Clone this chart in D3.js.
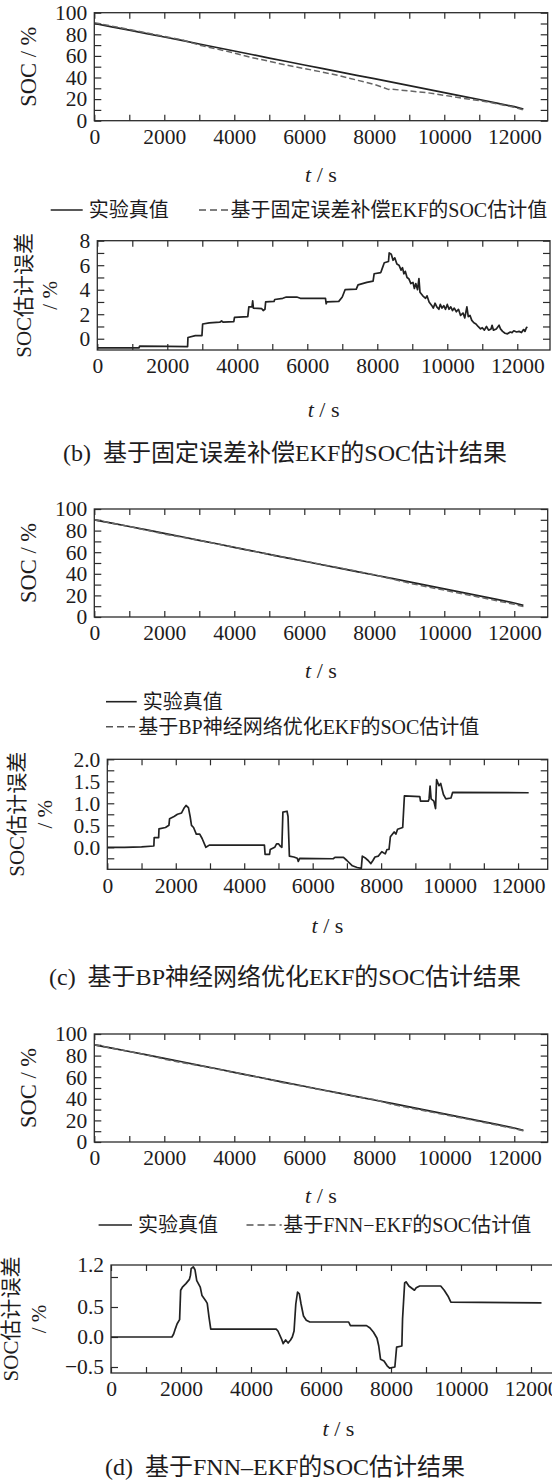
<!DOCTYPE html>
<html><head><meta charset="utf-8">
<script src="https://cdn.jsdelivr.net/npm/d3@7"></script>
<style>
body{margin:0;background:#fff}
svg{display:block}
text{font-family:"Liberation Serif","Noto Sans CJK SC",serif;fill:#1e1c1d;white-space:pre}
</style>
</head><body>
<svg id="chart" width="552" height="1481"></svg>
<script>
// ---------- data ----------
const timeGrid = [0,500,1000,1500,2000,2500,3000,3500,4000,4500,5000,5500,6000,6500,7000,7500,8000,8500,9000,9500,10000,10500,11000,11500,12000,12260];
const socTrue  = [90.0,86.9,83.8,80.7,77.5,74.3,71.0,67.8,64.5,61.3,58.0,54.8,51.6,48.4,45.2,42.0,38.9,35.7,32.5,29.3,26.0,22.8,19.6,16.3,13.0,10.8];

const estTimeB = [0,500,1000,1500,2000,2500,3000,3500,4000,4500,5000,5500,6000,6500,7000,7500,8000,8400,8500,9000,9500,10000,10500,11000,11500,12000,12260];
const socEstB  = [90.8,87.6,84.5,81.3,78.1,74.9,70.0,66.4,62.7,58.5,55.0,51.4,48.3,45.1,41.7,37.6,33.6,29.0,29.2,27.5,26.0,23.5,20.9,18.7,15.7,12.4,9.9];

const estTimeC = [0,500,1000,1500,2000,2500,3000,3500,4000,4500,5000,5250,5500,6000,6500,7000,7500,8000,8500,9000,9500,10000,10500,11000,11500,12000,12260];
const socEstC  = [90.0,86.9,83.8,80.4,76.8,73.9,70.95,67.75,64.45,61.25,58.0,55.9,55.1,51.85,48.65,45.45,42.45,39.0,35.3,31.35,28.0,24.9,21.55,18.35,15.05,11.75,9.6];

const estTimeD = [0,500,1000,1500,2000,2500,3000,3500,4000,4500,5000,5350,5500,6000,6500,7000,7500,8000,8500,9000,9500,10000,10500,11000,11500,12000,12260];
const socEstD  = [90.0,86.9,83.8,80.7,76.7,73.5,70.85,67.65,64.35,61.15,58.1,55.2,54.5,51.35,48.15,45.0,41.9,39.4,34.85,31.65,28.5,25.4,22.2,19.0,15.7,12.4,10.4];

const errB = [[0,-0.75],[1190,-0.75],[1210,-0.6],[2000,-0.62],[2580,-0.65],[2590,0.1],[2800,0.25],[2990,0.25],[3010,1.2],[3200,1.3],[3500,1.35],[3550,1.45],[3600,1.35],[3900,1.4],[3920,1.75],[4300,1.8],[4330,2.6],[4420,2.6],[4440,3.1],[4460,2.5],[4700,2.45],[4740,2.3],[4790,2.4],[4810,3.0],[5050,3.05],[5070,3.2],[5300,3.3],[5400,3.4],[5700,3.4],[5800,3.3],[6520,3.3],[6540,2.85],[6560,3.0],[6900,3.05],[7000,3.4],[7080,4.0],[7400,4.05],[7450,4.4],[7700,4.6],[7880,4.7],[7910,5.3],[8100,5.4],[8150,5.8],[8200,6.2],[8320,6.3],[8340,7.0],[8400,6.9],[8450,6.4],[8500,6.6],[8560,6.1],[8620,6.0],[8680,5.6],[8720,5.8],[8760,5.3],[8800,5.5],[8850,5.0],[8900,4.9],[8960,4.5],[9020,4.6],[9060,4.1],[9100,4.5],[9150,4.0],[9190,4.9],[9220,3.8],[9300,3.5],[9380,3.3],[9420,3.5],[9480,3.0],[9560,2.7],[9600,2.5],[9650,2.9],[9700,2.6],[9760,2.4],[9800,2.8],[9850,2.5],[9900,2.7],[9950,2.4],[10000,2.8],[10050,2.4],[10100,2.6],[10150,2.3],[10200,2.5],[10260,2.2],[10320,2.4],[10380,1.9],[10450,2.1],[10500,1.7],[10560,2.6],[10600,1.8],[10650,1.9],[10700,1.5],[10760,1.3],[10820,1.2],[10880,1.0],[10950,0.8],[11000,0.9],[11060,0.7],[11120,1.0],[11180,0.7],[11250,0.8],[11280,1.1],[11320,0.7],[11400,0.8],[11480,1.1],[11520,0.8],[11580,0.6],[11650,0.45],[11720,0.4],[11800,0.55],[11850,0.5],[11900,0.65],[11980,0.55],[12050,0.6],[12120,0.5],[12180,0.75],[12220,0.6],[12260,0.9],[12290,0.95]];

const errC = [[0,0],[500,0.0],[1000,0.01],[1360,0.03],[1370,0.22],[1500,0.22],[1510,0.42],[1700,0.45],[1800,0.5],[1820,0.65],[1950,0.7],[2050,0.75],[2170,0.78],[2250,0.9],[2300,0.95],[2370,0.9],[2420,0.7],[2460,0.5],[2520,0.45],[2600,0.3],[2700,0.3],[2770,0.2],[2880,0.0],[2980,0.05],[4590,0.05],[4610,-0.16],[4740,-0.16],[4760,-0.05],[4890,0.0],[4945,0.08],[5000,0.08],[5050,0.03],[5100,0.0],[5130,0.8],[5250,0.82],[5280,0.7],[5320,-0.2],[5450,-0.22],[5550,-0.25],[5580,-0.32],[5620,-0.25],[6600,-0.26],[6650,-0.23],[6900,-0.23],[7000,-0.3],[7160,-0.42],[7300,-0.46],[7420,-0.48],[7450,-0.2],[7550,-0.25],[7620,-0.3],[7700,-0.37],[7760,-0.3],[7820,-0.22],[7920,-0.2],[8000,-0.12],[8020,-0.1],[8120,-0.15],[8170,-0.05],[8230,-0.05],[8270,0.24],[8380,0.35],[8430,0.3],[8480,0.41],[8630,0.45],[8680,1.17],[9130,1.15],[9150,1.05],[9380,1.05],[9400,1.1],[9430,1.39],[9460,1.1],[9540,1.05],[9590,0.88],[9620,1.54],[9690,1.4],[9740,1.45],[9820,1.2],[9890,1.1],[10040,1.12],[10090,1.25],[12310,1.24]];

const errD = [[0,0],[1740,0.0],[1790,0.05],[1840,0.14],[1890,0.22],[1960,0.29],[1990,0.78],[2040,0.83],[2140,0.89],[2240,0.96],[2270,1.03],[2290,1.14],[2350,1.17],[2400,1.12],[2450,0.94],[2550,0.83],[2600,0.69],[2700,0.61],[2750,0.56],[2800,0.33],[2850,0.13],[4720,0.13],[4770,0.1],[4870,-0.03],[4920,-0.11],[4990,-0.05],[5060,-0.1],[5130,-0.05],[5180,0.0],[5230,0.1],[5280,0.55],[5330,0.75],[5380,0.72],[5430,0.55],[5500,0.35],[5580,0.28],[5680,0.25],[6790,0.25],[6840,0.19],[7300,0.19],[7400,0.15],[7500,0.08],[7600,-0.02],[7650,-0.15],[7700,-0.37],[7800,-0.4],[7890,-0.48],[7960,-0.52],[8110,-0.5],[8160,-0.17],[8310,-0.15],[8330,0.3],[8390,0.9],[8430,0.92],[8510,0.85],[8670,0.78],[8720,0.82],[8820,0.85],[9420,0.85],[9520,0.78],[9630,0.68],[9710,0.58],[12300,0.57]];

// tick values / labels
const xTickVals   = [0,1000,2000,3000,4000,5000,6000,7000,8000,9000,10000,11000,12000];
const xTickLabels = [0,2000,4000,6000,8000,10000,12000];
const socTickVals   = [0,10,20,30,40,50,60,70,80,90,100];
const socTickLabels = [0,20,40,60,80,100];
const errBTickVals   = [0,1,2,3,4,5,6,7,8];
const errBTickLabels = [0,2,4,6,8];
const errCTickVals   = [-0.25,0,0.25,0.5,0.75,1.0,1.25,1.5,1.75,2.0];
const errCTickLabels = [0,0.5,1.0,1.5,2.0];
const errDTickVals   = [-0.5,0,0.5,1.0];
const errDTickLabels = [-0.5,0,0.5,1.2];

const legendTrue = "实验真值";
const legendB = "基于固定误差补偿EKF的SOC估计值";
const legendC = "基于BP神经网络优化EKF的SOC估计值";
const legendD = "基于FNN−EKF的SOC估计值";
const titleB = "(b)  基于固定误差补偿EKF的SOC估计结果";
const titleC = "(c)  基于BP神经网络优化EKF的SOC估计结果";
const titleD = "(d)  基于FNN–EKF的SOC估计结果";

// ---------- drawing ----------
const svg = d3.select("#chart");
const INK = "#2b2b2b";
let clipId = 0;

function panel(o){
  const x = d3.scaleLinear().domain(o.xDomain).range([o.left, o.right]);
  const y = d3.scaleLinear().domain(o.yDomain).range([o.bottom, o.top]);
  const g = svg.append("g");
  const cid = "clip" + (clipId++);
  svg.append("clipPath").attr("id", cid).append("rect")
    .attr("x", o.left).attr("y", o.top).attr("width", o.right - o.left).attr("height", o.bottom - o.top);

  const styleTicks = sel => { sel.select(".domain").remove(); sel.selectAll("line").attr("stroke", INK).attr("stroke-width", 1.2); };
  const styleLabels = sel => { sel.select(".domain").remove(); sel.selectAll("line").remove();
    sel.selectAll("text").attr("font-size", 21.5).attr("fill", "#1e1c1d"); };

  // tick marks (inward) on all four sides
  g.append("g").attr("transform", `translate(0,${o.bottom})`)
    .call(d3.axisBottom(x).tickValues(o.xTicks).tickSize(-6).tickFormat("")).call(styleTicks);
  g.append("g").attr("transform", `translate(0,${o.top})`)
    .call(d3.axisTop(x).tickValues(o.xTicks).tickSize(-6).tickFormat("")).call(styleTicks);
  g.append("g").attr("transform", `translate(${o.left},0)`)
    .call(d3.axisLeft(y).tickValues(o.yTicks).tickSize(-7).tickFormat("")).call(styleTicks);
  g.append("g").attr("transform", `translate(${o.right},0)`)
    .call(d3.axisRight(y).tickValues(o.yTicks).tickSize(-7).tickFormat("")).call(styleTicks);

  // labels
  g.append("g").attr("transform", `translate(0,${o.bottom})`)
    .call(d3.axisBottom(x).tickValues(o.xLabels).tickSize(0).tickPadding(8).tickFormat(d3.format("d"))).call(styleLabels);
  g.append("g").attr("transform", `translate(${o.left},0)`)
    .call(d3.axisLeft(y).tickValues(o.yLabels).tickSize(0).tickPadding(7).tickFormat(o.yFormat)).call(styleLabels);

  // series
  const plot = g.append("g").attr("clip-path", `url(#${cid})`);
  o.series.forEach(s => {
    const line = d3.line().x(d => x(d[0])).y(d => y(d[1]));
    plot.append("path").datum(s.data).attr("fill","none")
      .attr("stroke", s.color).attr("stroke-width", s.width)
      .attr("stroke-dasharray", s.dash || null)
      .attr("stroke-linejoin","round")
      .attr("d", line);
  });

  // frame
  g.append("rect").attr("x", o.left).attr("y", o.top)
    .attr("width", o.right - o.left).attr("height", o.bottom - o.top)
    .attr("fill","none").attr("stroke", INK).attr("stroke-width", 1.3);

  // x title "t / s"
  const xt = svg.append("text").attr("x", (o.left + Math.min(o.right,566)) / 2).attr("y", o.xTitleY)
    .attr("text-anchor","middle").attr("dominant-baseline","central").attr("font-size", 22);
  xt.append("tspan").attr("font-style","italic").text("t");
  xt.append("tspan").text(" / s");

  // y title
  const cy = (o.top + o.bottom) / 2;
  if (o.yTitle2) {
    svg.append("text").attr("transform", `translate(${o.yTitleX},${cy}) rotate(-90)`)
      .attr("text-anchor","middle").attr("dominant-baseline","central").attr("font-size", 21).text(o.yTitle);
    svg.append("text").attr("transform", `translate(${o.yTitle2X},${cy}) rotate(-90)`)
      .attr("text-anchor","middle").attr("dominant-baseline","central").attr("font-size", 21).text(o.yTitle2);
  } else {
    svg.append("text").attr("transform", `translate(${o.yTitleX},${cy}) rotate(-90)`)
      .attr("text-anchor","middle").attr("dominant-baseline","central").attr("font-size", 22.5)
      .text(o.yTitle);
  }
}

const zip = (a, b) => a.map((v, i) => [v, b[i]]);
const trueSeries = zip(timeGrid, socTrue);

function socPanel(top, estT, estV){
  panel({
    left: 94.3, right: 547.7, top: top, bottom: top + 108,
    xDomain: [0, 12955], yDomain: [0, 100],
    xTicks: xTickVals, xLabels: xTickLabels,
    yTicks: socTickVals, yLabels: socTickLabels, yFormat: d3.format("d"),
    xTitleY: top + 161,
    yTitle: "SOC / %", yTitleX: 28,
    series: [
      {data: trueSeries, color: "#222", width: 1.7},
      {data: zip(estT, estV), color: "#666", width: 1.5, dash: "6,3"}
    ]
  });
}

function legendItem(x1, x2, y, dash, label){
  svg.append("line").attr("x1", x1).attr("x2", x2).attr("y1", y).attr("y2", y)
    .attr("stroke", dash ? "#555" : "#222").attr("stroke-width", 1.6).attr("stroke-dasharray", dash ? "7,4" : null);
  svg.append("text").attr("x", x2 + (dash ? 1.5 : 6)).attr("y", y).attr("dominant-baseline","central")
    .attr("font-size", 20).text(label);
}

function title(y, t){
  svg.append("text").attr("x", 285).attr("y", y).attr("text-anchor","middle")
    .attr("dominant-baseline","central").attr("font-size", 24).text(t);
}

// ---- (b) ----
socPanel(12.7, estTimeB, socEstB);
legendItem(50.7, 82.7, 210, false, legendTrue);
legendItem(199, 229, 210, true, legendB);
panel({
  left: 97.3, right: 550, top: 240.7, bottom: 350,
  xDomain: [0, 12935], yDomain: [-0.92, 8],
  xTicks: xTickVals, xLabels: xTickLabels,
  yTicks: errBTickVals, yLabels: errBTickLabels, yFormat: d3.format("d"),
  xTitleY: 409,
  yTitle: "SOC估计误差", yTitleX: 24, yTitle2: "/ %", yTitle2X: 50,
  series: [{data: errB, color: "#222", width: 1.7}]
});
title(453.3, titleB);

// ---- (c) ----
socPanel(509, estTimeC, socEstC);
legendItem(106, 136.7, 701.7, false, legendTrue);
legendItem(106, 136.7, 726.7, true, legendC);
panel({
  left: 107.3, right: 547.7, top: 759.3, bottom: 869.3,
  xDomain: [0, 12866], yDomain: [-0.5, 2.0],
  xTicks: xTickVals, xLabels: xTickLabels,
  yTicks: errCTickVals, yLabels: errCTickLabels, yFormat: d3.format(".1f"),
  xTitleY: 925,
  yTitle: "SOC估计误差", yTitleX: 17.3, yTitle2: "/ %", yTitle2X: 45,
  series: [{data: errC, color: "#222", width: 1.7}]
});
title(976.7, titleC);

// ---- (d) ----
socPanel(1034, estTimeD, socEstD);
legendItem(98.6, 132, 1225, false, legendTrue);
legendItem(246.5, 281.7, 1225, true, legendD);
panel({
  left: 111, right: 566, top: 1265, bottom: 1373,
  xDomain: [0, 13000], yDomain: [-0.6, 1.2],
  xTicks: xTickVals, xLabels: xTickLabels,
  yTicks: errDTickVals, yLabels: errDTickLabels, yFormat: d => d3.format(".1f")(d).replace("-", "−"),
  xTitleY: 1428,
  yTitle: "SOC估计误差", yTitleX: 10.6, yTitle2: "/ %", yTitle2X: 38.7,
  series: [{data: errD, color: "#222", width: 1.7}]
});
title(1466.7, titleD);
</script>
</body></html>
